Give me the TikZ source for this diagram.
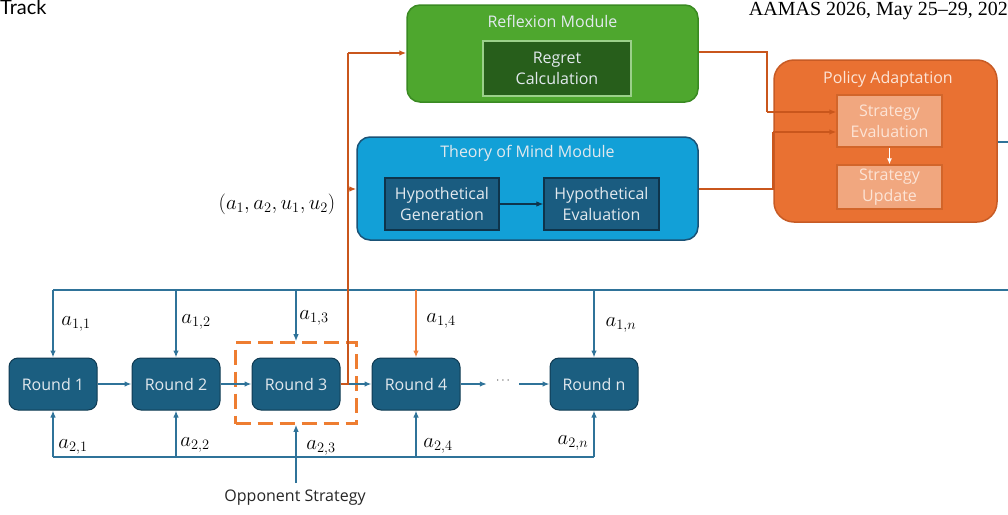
\documentclass[tikz,border=0pt]{standalone}
\usepackage{fontspec}
\setmainfont{Open Sans}
\newfontfamily\hdsans{Lato}
\newfontfamily\hdserif{Liberation Serif}
\usetikzlibrary{arrows.meta}
\definecolor{roundfill}{HTML}{1B5E80}
\definecolor{roundborder}{HTML}{0F3A52}
\definecolor{lineblue}{HTML}{2F7399}
\definecolor{greenfill}{HTML}{4EA72E}
\definecolor{greenborder}{HTML}{3A8A22}
\definecolor{regretfill}{HTML}{275E1B}
\definecolor{regretborder}{HTML}{9BD08A}
\definecolor{tomfill}{HTML}{12A0D7}
\definecolor{tomborder}{HTML}{1A5276}
\definecolor{hyfill}{HTML}{1A5C80}
\definecolor{hyborder}{HTML}{0E344B}
\definecolor{polfill}{HTML}{E97132}
\definecolor{polborder}{HTML}{C75B25}
\definecolor{sfill}{HTML}{F1A77F}
\definecolor{sborder}{HTML}{D2652A}
\definecolor{orangeline}{HTML}{C9561C}
\definecolor{orangelight}{HTML}{EE7F3B}
\definecolor{dashcol}{HTML}{EE7D31}
\definecolor{lighttext}{HTML}{E2E9EE}
\definecolor{peachtext}{HTML}{FCE4D6}
\tikzset{
  txt/.style={font=\fontsize{16}{21}\selectfont, align=center},
  module/.style={rectangle, rounded corners=13pt, line width=1.5pt, inner sep=0pt},
  inner/.style={rectangle, line width=1.3pt, inner sep=0pt, txt, text=lighttext},
  roundbox/.style={rectangle, rounded corners=9pt, fill=roundfill, draw=roundborder, line width=1pt,
    minimum width=88pt, minimum height=52pt, inner sep=0pt, txt, text=lighttext},
  arr/.style={-{Latex[length=7pt,width=5.5pt]}},
  bl/.style={draw=lineblue, line width=1.3pt},
  lab/.style={font=\fontsize{21}{24}\selectfont, inner sep=0pt},
}
\begin{document}
\begin{tikzpicture}[x=1pt,y=-1pt]
\useasboundingbox (0,0) rectangle (1008,514);

% header
\node[anchor=base west, inner sep=0pt, font=\hdsans\fontsize{20}{24}\selectfont] (hdl) at (0,14) {Track};
\node[anchor=base east, inner sep=0pt, font=\hdserif\fontsize{20}{24}\selectfont] (hdr) at (1008,15) {AAMAS 2026, May 25–29, 202};

% modules
\node[module, fill=greenfill, draw=greenborder, minimum width=291pt, minimum height=97pt] (refl) at (552.5,53.5) {};
\node[txt, text=lighttext, inner sep=0pt] (refltitle) at (552.5,21) {Reflexion Module};
\node[inner, fill=regretfill, draw=regretborder, minimum width=148pt, minimum height=55pt] (regret) at (557,68.5) {Regret\\Calculation};

\node[module, fill=tomfill, draw=tomborder, minimum width=341pt, minimum height=103pt] (tom) at (527.5,188.5) {};
\node[txt, text=lighttext, inner sep=0pt] (tomtitle) at (527.5,153) {Theory of Mind Module};
\node[inner, fill=hyfill, draw=hyborder, minimum width=114pt, minimum height=52pt] (hgen) at (442,204) {Hypothetical\\Generation};
\node[inner, fill=hyfill, draw=hyborder, minimum width=115pt, minimum height=52pt] (heval) at (601.5,204) {Hypothetical\\Evaluation};

\node[module, fill=polfill, draw=polborder, rounded corners=20pt, minimum width=223pt, minimum height=162pt] (pol) at (885.5,141) {};
\node[txt, text=peachtext, inner sep=0pt] (poltitle) at (888,79) {Policy Adaptation};
\node[inner, fill=sfill, draw=sborder, text=peachtext, minimum width=105pt, minimum height=52pt] (seval) at (889.5,121) {Strategy\\Evaluation};
\node[inner, fill=sfill, draw=sborder, text=peachtext, minimum width=105pt, minimum height=44pt] (supd) at (889.5,187) {Strategy\\Update};

% rounds
\node[roundbox] (r1) at (53,384) {Round 1};
\node[roundbox] (r2) at (176,384) {Round 2};
\node[roundbox] (r3) at (296,384) {Round 3};
\node[roundbox] (r4) at (416,384) {Round 4};
\node[roundbox] (rn) at (594,384) {Round n};
\node[inner sep=0pt, minimum width=32pt, font=\fontsize{12}{14}\selectfont, text=black!75] (dots) at (503,381) {$\cdots$};
\node[draw=dashcol, line width=2.6pt, dash pattern=on 15pt off 7pt, minimum width=121pt, minimum height=81pt, inner sep=0pt] (focus) at (296,383) {};

\node[txt, text=black!85, inner sep=0pt] (opp) at (295,498) {Opponent Strategy};
\node[lab] (tuple) at (277,204) {$(a_1, a_2, u_1, u_2)$};

% coordinates
\coordinate (t1) at (53,290);
\coordinate (t2) at (176,290);
\coordinate (t3) at (296,290);
\coordinate (t4) at (416,290);
\coordinate (tn) at (594,290);
\coordinate (tend) at (1008,290);
\coordinate (b1) at (53,457);
\coordinate (b2) at (176,457);
\coordinate (b4) at (416,457);
\coordinate (bn) at (594,457);
\coordinate (oppstart) at (296,483);
\coordinate (polout) at (1008,142);
\coordinate (o1) at (348,384);
\coordinate (o2) at (348,53);
\coordinate (o3) at (348,189);
\coordinate (rc1) at (767,52);
\coordinate (rc2) at (767,112);
\coordinate (tc1) at (773,189);
\coordinate (tc2) at (773,132);

% round chain
\draw[bl, arr] (r1) -- (r2);
\draw[bl, arr] (r2) -- (r3);
\draw[bl, arr] (r3) -- (r4);
\draw[bl, arr] (r4.east) -- (dots.west |- r4.east);
\draw[bl, arr] (dots.east |- rn.west) -- (rn.west);

% top bus
\draw[bl] (t1) -- (t3);
\draw[draw=lineblue, line width=2.3pt] (t3) -- (tend);
\draw[draw=lineblue, line width=2.3pt] (pol.east |- polout) -- (polout);
\draw[bl, arr] (t1) -- (r1.north);
\draw[bl, arr] (t2) -- (r2.north);
\draw[bl, arr] (t3) -- (focus.north);
\draw[draw=orangelight, line width=1.3pt, arr] (t4) -- (r4.north);
\draw[bl, arr] (tn) -- (rn.north);

% bottom bus
\draw[bl] (b1) -- (bn);
\draw[bl, arr] (b1) -- (r1.south);
\draw[bl, arr] (b2) -- (r2.south);
\draw[bl, arr] (b4) -- (r4.south);
\draw[bl, arr] (bn) -- (rn.south);
\draw[bl, arr] (oppstart) -- (focus.south);

% orange feedback
\draw[draw=orangeline, line width=1.3pt] (r3.east) -- (o1) -- (o2);
\draw[draw=orangeline, line width=1.3pt, arr] (o2) -- (refl.west |- o2);
\draw[draw=orangeline, line width=1.3pt, arr] (o3) -- (tom.west |- o3);
\draw[draw=orangeline, line width=1.3pt] (refl.east |- rc1) -- (rc1) -- (rc2);
\draw[draw=orangeline, line width=1.3pt, arr] (rc2) -- (seval.west |- rc2);
\draw[draw=orangeline, line width=1.3pt] (tom.east |- tc1) -- (tc1) -- (tc2);
\draw[draw=orangeline, line width=1.3pt, arr] (tc2) -- (seval.west |- tc2);

% inner arrows
\draw[draw=hyborder, line width=1.1pt, arr] (hgen) -- (heval);
\draw[draw=white, line width=1.3pt, -{Latex[length=6pt,width=5pt]}] (seval) -- (supd);

% labels
\node[lab] (a11) at (76,324) {$a_{1,1}$};
\node[lab] (a12) at (196,322) {$a_{1,2}$};
\node[lab] (a13) at (314,318) {$a_{1,3}$};
\node[lab] (a14) at (441,321) {$a_{1,4}$};
\node[lab] (a1n) at (621,325) {$a_{1,n}$};
\node[lab] (a21) at (73,447) {$a_{2,1}$};
\node[lab] (a22) at (195,445) {$a_{2,2}$};
\node[lab] (a23) at (321,448) {$a_{2,3}$};
\node[lab] (a24) at (438,446) {$a_{2,4}$};
\node[lab] (a2n) at (573,443) {$a_{2,n}$};
\end{tikzpicture}
\end{document}
